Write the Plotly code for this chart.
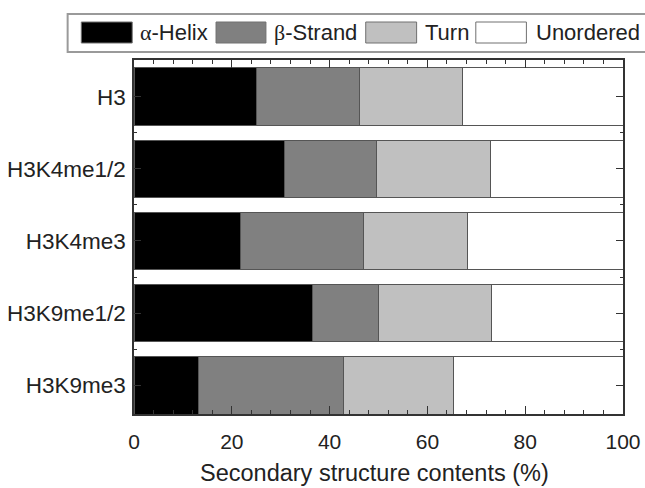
import plotly.graph_objects as go

categories = ["H3", "H3K4me1/2", "H3K4me3", "H3K9me1/2", "H3K9me3"]
helix = [25.1, 30.8, 21.8, 36.6, 13.2]
strand = [21.1, 18.8, 25.1, 13.4, 29.6]
turn = [21.0, 23.4, 21.4, 23.1, 22.5]
unordered = [32.8, 27.0, 31.7, 26.9, 34.7]

series_names = ["α-Helix", "β-Strand", "Turn", "Unordered"]
series_values = [helix, strand, turn, unordered]
colors = ["#000000", "#808080", "#c0c0c0", "#ffffff"]
x_ticks = [0, 20, 40, 60, 80, 100]
x_title = "Secondary structure contents (%)"

W, H = 645, 488
L, R, T, B = 133.5, 21.5, 60, 74
pw, ph = W - L - R, H - T - B

def px(x):
    return (x - L) / pw

def py(y):
    return (H - B - y) / ph

ypos = list(range(len(categories)))
fig = go.Figure()
for name, vals, c in zip(series_names, series_values, colors):
    fig.add_trace(go.Bar(
        y=ypos, x=vals, orientation="h", name=name, width=0.8,
        marker=dict(color=c, line=dict(color="#555555", width=1)),
        showlegend=False,
    ))

axis_common = dict(showline=True, linecolor="#333333", linewidth=1.5, mirror="ticks",
                   ticks="inside", tickcolor="#333333", tickwidth=1.2,
                   showgrid=False, zeroline=False)

fig.update_xaxes(range=[0, 100], tickvals=x_ticks, ticklen=8,
                 minor=dict(dtick=4, tick0=0, ticklen=4, ticks="inside", tickcolor="#333333"),
                 tickfont=dict(size=21, color="#222222"), ticklabelstandoff=8,
                 **axis_common)
fig.update_yaxes(range=[4.40, -0.51], tickvals=ypos, ticktext=categories, ticklen=7,
                 minor=dict(tickvals=[-0.5, 0.5, 1.5, 2.5, 3.5], ticklen=3, ticks="inside", tickcolor="#333333"),
                 tickfont=dict(size=22.5, color="#222222"), ticklabelstandoff=2,
                 **axis_common)

annotations = [dict(xref="paper", yref="paper", x=px(374), y=py(487), xanchor="center", yanchor="bottom",
                    borderpad=0, text=x_title, showarrow=False, font=dict(size=23.5, color="#222222"))]

# manual legend
shapes = [dict(type="rect", xref="paper", yref="paper", x0=px(67), x1=px(652), y0=py(14), y1=py(52),
               line=dict(color="#9a9a9a", width=2), fillcolor="rgba(0,0,0,0)", layer="above")]
sw = [(80.7, 131.7), (215.7, 265.7), (365.7, 416.7), (476, 526.7)]
tx = [138, 272, 423, 534]
for (a, b), t, name, c in zip(sw, tx, series_names, colors):
    shapes.append(dict(type="rect", xref="paper", yref="paper", x0=px(a), x1=px(b), y0=py(22), y1=py(43),
                       line=dict(color="#707070", width=1), fillcolor=c, layer="above"))
    if name[0] in "αβ":
        label = "<span style='font-family:Liberation Serif'>" + name[0] + "</span>" + name[1:]
    else:
        label = name
    annotations.append(dict(xref="paper", yref="paper", x=px(t), y=py(32.5), xanchor="left", yanchor="middle",
                            text=label, showarrow=False, font=dict(size=22, color="#222222")))

fig.update_layout(width=W, height=H, margin=dict(l=L, r=R, t=T, b=B, autoexpand=False),
                  barmode="stack", bargap=0.2, plot_bgcolor="white", paper_bgcolor="white",
                  font=dict(family="Liberation Sans, Arial, sans-serif"),
                  shapes=shapes, annotations=annotations)

fig.write_html("out.html")
